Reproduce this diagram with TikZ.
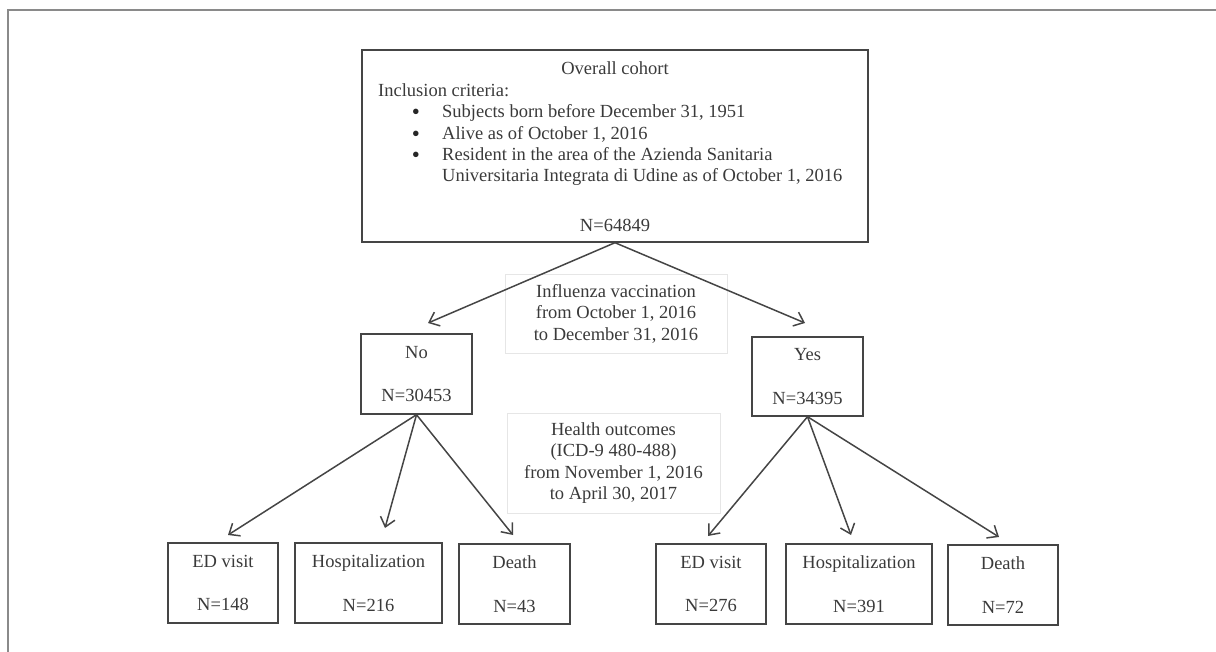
\documentclass[tikz,border=0pt]{standalone}
\usepackage{fontspec}
\setmainfont{Liberation Serif}
\usetikzlibrary{arrows.meta}
\definecolor{ink}{HTML}{3A3A3A}
\definecolor{edgec}{HTML}{454545}
\definecolor{faint}{HTML}{E6E6E6}
\definecolor{framec}{HTML}{8A8A8A}
\begin{document}
\begin{tikzpicture}[x=1pt,y=-1pt,
  every node/.style={font=\fontsize{18.5}{21.5}\selectfont, text=ink, inner sep=0pt},
  box/.style={draw=edgec, line width=1.4pt, align=center},
  faintbox/.style={draw=faint, line width=0.8pt, align=center},
  txt/.style={anchor=base west},
  bul/.style={anchor=base, font=\fontsize{23}{23}\selectfont, text=black!85, text height=9pt, text depth=0pt},
  arr/.style={draw=edgec, line width=1.5pt, -{Straight Barb[length=9pt,width=15pt,line width=1.5pt]}}
]
\useasboundingbox (0,0) rectangle (1216,652);
\draw[framec, line width=2pt] (8,652) -- (8,10) -- (1216,10);

% top box
\node[box, minimum width=506pt, minimum height=192pt] (top) at (615,146) {};
\node[anchor=base] (t1) at (615,75) {Overall cohort};
\node[txt] (t2) at (378,97) {Inclusion criteria:};
\node[bul] (b1) at (416,120) {\textbullet};
\node[txt] (t3) at (442,118) {Subjects born before December 31, 1951};
\node[bul] (b2) at (416,142) {\textbullet};
\node[txt] (t4) at (442,140) {Alive as of October 1, 2016};
\node[bul] (b3) at (416,163) {\textbullet};
\node[txt] (t5) at (442,161) {Resident in the area of the Azienda Sanitaria};
\node[txt] (t6) at (442,182) {Universitaria Integrata di Udine as of October 1, 2016};
\node[anchor=base] (t7) at (615,232) {N=64849};

% labels
\node[faintbox, minimum width=222pt, minimum height=79pt] (infl) at (616,313.5) {Influenza vaccination\\from October 1, 2016\\to December 31, 2016};
\node[faintbox, minimum width=213pt, minimum height=100pt] (health) at (613.5,463) {Health outcomes\\(ICD-9 480-488)\\from November 1, 2016\\to April 30, 2017};

% second level
\node[box, minimum width=111pt, minimum height=80pt] (no) at (416.5,374) {No\\[22pt]N=30453};
\node[box, minimum width=111pt, minimum height=79pt] (yes) at (807.5,376.5) {Yes\\[22pt]N=34395};

% bottom level
\node[box, minimum width=110pt, minimum height=80pt] (ed1) at (223,583) {ED visit\\[22pt]N=148};
\node[box, minimum width=147pt, minimum height=80pt] (hosp1) at (368.5,583) {Hospitalization\\[22pt]N=216};
\node[box, minimum width=111pt, minimum height=80pt] (death1) at (514.5,584) {Death\\[22pt]N=43};
\node[box, minimum width=110pt, minimum height=80pt] (ed2) at (711,584) {ED visit\\[22pt]N=276};
\node[box, minimum width=146pt, minimum height=80pt] (hosp2) at (859,584) {Hospitalization\\[22pt]N=391};
\node[box, minimum width=110pt, minimum height=80pt] (death2) at (1003,585) {Death\\[22pt]N=72};

% arrow tips
\coordinate (tno) at (428,323);
\coordinate (tyes) at (805,323);
\coordinate (ted1) at (228,535);
\coordinate (thosp1) at (385,528);
\coordinate (tdeath1) at (513,535);
\coordinate (ted2) at (708,536);
\coordinate (thosp2) at (851,535);
\coordinate (tdeath2) at (999,537);

\draw[arr] (top.south) -- (tno);
\draw[arr] (top.south) -- (tyes);
\draw[arr] (no.south) -- (ted1);
\draw[arr] (no.south) -- (thosp1);
\draw[arr] (no.south) -- (tdeath1);
\draw[arr] (yes.south) -- (ted2);
\draw[arr] (yes.south) -- (thosp2);
\draw[arr] (yes.south) -- (tdeath2);
\end{tikzpicture}
\end{document}
